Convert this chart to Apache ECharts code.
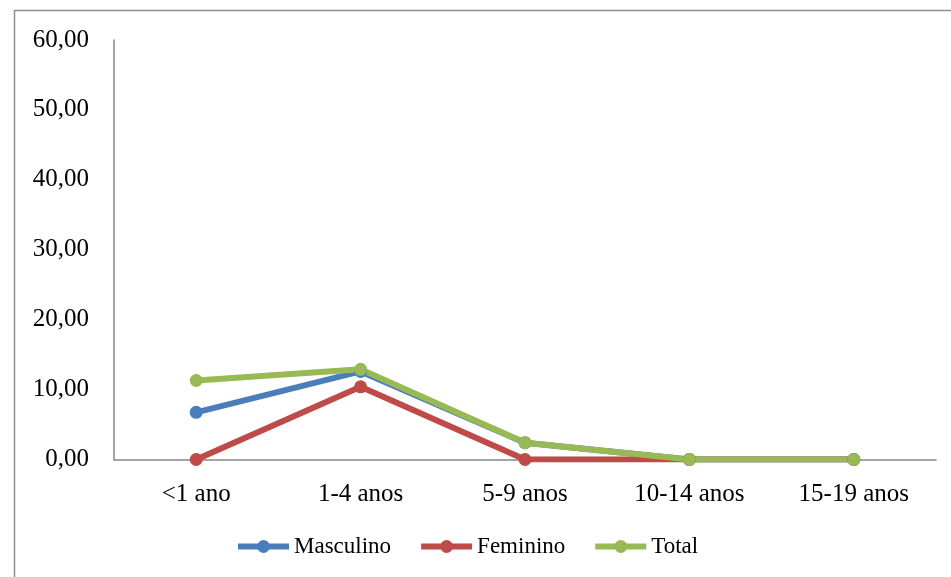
<!DOCTYPE html>
<html>
<head>
<meta charset="utf-8">
<script src="https://cdn.jsdelivr.net/npm/echarts@6/dist/echarts.min.js"></script>
<style>
html,body{margin:0;padding:0;background:#fff;}
#chart{width:951px;height:577px;}
</style>
</head>
<body>
<div id="chart"></div>
<script>
const categories = ['<1 ano', '1-4 anos', '5-9 anos', '10-14 anos', '15-19 anos'];
const masculino = [6.75, 12.6, 2.4, 0, 0];
const feminino = [0, 10.4, 0, 0, 0];
const total = [11.3, 12.9, 2.4, 0, 0];
const yTicks = { min: 0, max: 60, interval: 10 };

const FONT = '"Liberation Serif", "Times New Roman", serif';
const chart = echarts.init(document.getElementById('chart'));
function mk(name, data, color) {
  return {
    name, type: 'line', data,
    symbol: 'circle', symbolSize: 13,
    lineStyle: { width: 6, color },
    itemStyle: { color },
    emphasis: { disabled: true },
    z: 3
  };
}
chart.setOption({
  animation: false,
  backgroundColor: '#fff',
  graphic: [{
    type: 'rect', shape: { x: 14.5, y: 10.5, width: 1000, height: 700 },
    style: { fill: 'none', stroke: '#8f8f8f', lineWidth: 1.5 }, z: -1
  }],
  grid: { left: 114, right: 15, top: 40, bottom: 117.5 },
  xAxis: {
    type: 'category', data: categories, boundaryGap: true,
    axisLine: { lineStyle: { color: '#868686', width: 1.5 } },
    axisTick: { show: false },
    axisLabel: { color: '#000', fontFamily: FONT, fontSize: 25, margin: 22 }
  },
  yAxis: {
    type: 'value', min: yTicks.min, max: yTicks.max, interval: yTicks.interval,
    axisLine: { show: true, lineStyle: { color: '#868686', width: 1.5 } },
    axisTick: { show: false },
    splitLine: { show: false },
    axisLabel: {
      color: '#000', fontFamily: FONT, fontSize: 25, margin: 25,
      formatter: v => v.toFixed(2).replace('.', ',')
    }
  },
  legend: {
    bottom: 19, left: 235, padding: 0,
    itemWidth: 51, itemHeight: 16, itemGap: 27,
    lineStyle: { width: 6 },
    textStyle: { color: '#000', fontFamily: FONT, fontSize: 23 },
    data: ['Masculino', 'Feminino', 'Total']
  },
  series: [
    mk('Masculino', masculino, '#4A7EBB'),
    mk('Feminino', feminino, '#BE4B48'),
    mk('Total', total, '#98B954')
  ]
});
</script>
</body>
</html>
